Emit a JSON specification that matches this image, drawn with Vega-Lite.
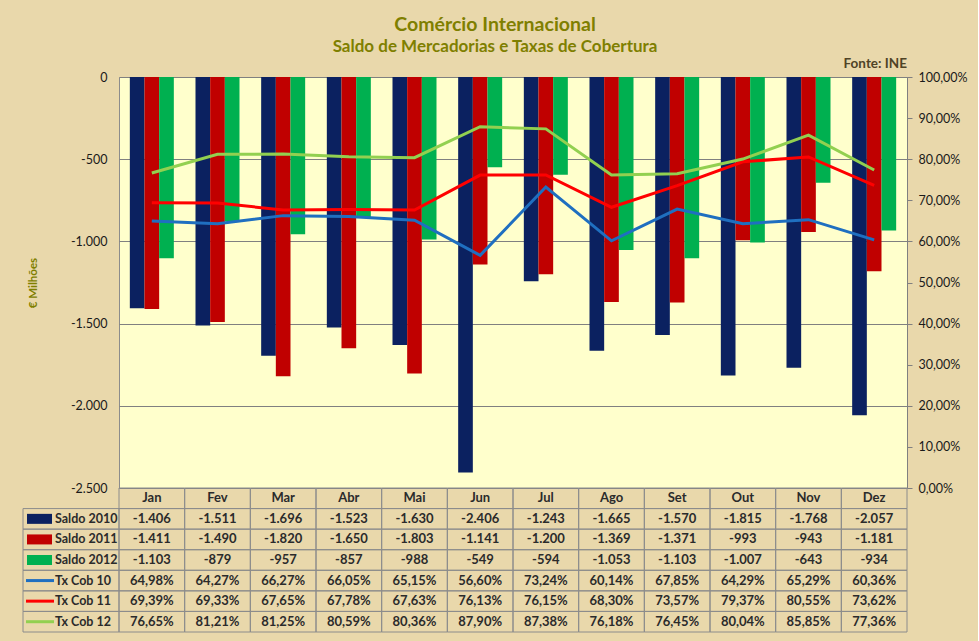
{
  "$schema": "https://vega.github.io/schema/vega-lite/v6.json",
  "description": "Comércio Internacional: saldo de mercadorias e taxas de cobertura, 2010-2012.",
  "background": "#e9d8ab",
  "padding": {"left": 22, "top": 14, "right": 10, "bottom": 8},
  "title": {
    "text": "Comércio Internacional",
    "subtitle": "Saldo de Mercadorias e Taxas de Cobertura",
    "font": "Lato",
    "fontSize": 19.5,
    "fontWeight": "bold",
    "color": "#7f7f00",
    "subtitleFont": "Lato",
    "subtitleFontSize": 17,
    "subtitleFontWeight": "bold",
    "subtitleColor": "#7f7f00",
    "subtitlePadding": 4,
    "anchor": "middle",
    "offset": 0
  },
  "datasets": {
    "dados": [
      {"mes": "Jan", "serie": "Saldo 2010", "valor": -1406},
      {"mes": "Fev", "serie": "Saldo 2010", "valor": -1511},
      {"mes": "Mar", "serie": "Saldo 2010", "valor": -1696},
      {"mes": "Abr", "serie": "Saldo 2010", "valor": -1523},
      {"mes": "Mai", "serie": "Saldo 2010", "valor": -1630},
      {"mes": "Jun", "serie": "Saldo 2010", "valor": -2406},
      {"mes": "Jul", "serie": "Saldo 2010", "valor": -1243},
      {"mes": "Ago", "serie": "Saldo 2010", "valor": -1665},
      {"mes": "Set", "serie": "Saldo 2010", "valor": -1570},
      {"mes": "Out", "serie": "Saldo 2010", "valor": -1815},
      {"mes": "Nov", "serie": "Saldo 2010", "valor": -1768},
      {"mes": "Dez", "serie": "Saldo 2010", "valor": -2057},
      {"mes": "Jan", "serie": "Saldo 2011", "valor": -1411},
      {"mes": "Fev", "serie": "Saldo 2011", "valor": -1490},
      {"mes": "Mar", "serie": "Saldo 2011", "valor": -1820},
      {"mes": "Abr", "serie": "Saldo 2011", "valor": -1650},
      {"mes": "Mai", "serie": "Saldo 2011", "valor": -1803},
      {"mes": "Jun", "serie": "Saldo 2011", "valor": -1141},
      {"mes": "Jul", "serie": "Saldo 2011", "valor": -1200},
      {"mes": "Ago", "serie": "Saldo 2011", "valor": -1369},
      {"mes": "Set", "serie": "Saldo 2011", "valor": -1371},
      {"mes": "Out", "serie": "Saldo 2011", "valor": -993},
      {"mes": "Nov", "serie": "Saldo 2011", "valor": -943},
      {"mes": "Dez", "serie": "Saldo 2011", "valor": -1181},
      {"mes": "Jan", "serie": "Saldo 2012", "valor": -1103},
      {"mes": "Fev", "serie": "Saldo 2012", "valor": -879},
      {"mes": "Mar", "serie": "Saldo 2012", "valor": -957},
      {"mes": "Abr", "serie": "Saldo 2012", "valor": -857},
      {"mes": "Mai", "serie": "Saldo 2012", "valor": -988},
      {"mes": "Jun", "serie": "Saldo 2012", "valor": -549},
      {"mes": "Jul", "serie": "Saldo 2012", "valor": -594},
      {"mes": "Ago", "serie": "Saldo 2012", "valor": -1053},
      {"mes": "Set", "serie": "Saldo 2012", "valor": -1103},
      {"mes": "Out", "serie": "Saldo 2012", "valor": -1007},
      {"mes": "Nov", "serie": "Saldo 2012", "valor": -643},
      {"mes": "Dez", "serie": "Saldo 2012", "valor": -934},
      {"mes": "Jan", "serie": "Tx Cob 10", "valor": 0.6498},
      {"mes": "Fev", "serie": "Tx Cob 10", "valor": 0.6427},
      {"mes": "Mar", "serie": "Tx Cob 10", "valor": 0.6627},
      {"mes": "Abr", "serie": "Tx Cob 10", "valor": 0.6605},
      {"mes": "Mai", "serie": "Tx Cob 10", "valor": 0.6515},
      {"mes": "Jun", "serie": "Tx Cob 10", "valor": 0.5660},
      {"mes": "Jul", "serie": "Tx Cob 10", "valor": 0.7324},
      {"mes": "Ago", "serie": "Tx Cob 10", "valor": 0.6014},
      {"mes": "Set", "serie": "Tx Cob 10", "valor": 0.6785},
      {"mes": "Out", "serie": "Tx Cob 10", "valor": 0.6429},
      {"mes": "Nov", "serie": "Tx Cob 10", "valor": 0.6529},
      {"mes": "Dez", "serie": "Tx Cob 10", "valor": 0.6036},
      {"mes": "Jan", "serie": "Tx Cob 11", "valor": 0.6939},
      {"mes": "Fev", "serie": "Tx Cob 11", "valor": 0.6933},
      {"mes": "Mar", "serie": "Tx Cob 11", "valor": 0.6765},
      {"mes": "Abr", "serie": "Tx Cob 11", "valor": 0.6778},
      {"mes": "Mai", "serie": "Tx Cob 11", "valor": 0.6763},
      {"mes": "Jun", "serie": "Tx Cob 11", "valor": 0.7613},
      {"mes": "Jul", "serie": "Tx Cob 11", "valor": 0.7615},
      {"mes": "Ago", "serie": "Tx Cob 11", "valor": 0.6830},
      {"mes": "Set", "serie": "Tx Cob 11", "valor": 0.7357},
      {"mes": "Out", "serie": "Tx Cob 11", "valor": 0.7937},
      {"mes": "Nov", "serie": "Tx Cob 11", "valor": 0.8055},
      {"mes": "Dez", "serie": "Tx Cob 11", "valor": 0.7362},
      {"mes": "Jan", "serie": "Tx Cob 12", "valor": 0.7665},
      {"mes": "Fev", "serie": "Tx Cob 12", "valor": 0.8121},
      {"mes": "Mar", "serie": "Tx Cob 12", "valor": 0.8125},
      {"mes": "Abr", "serie": "Tx Cob 12", "valor": 0.8059},
      {"mes": "Mai", "serie": "Tx Cob 12", "valor": 0.8036},
      {"mes": "Jun", "serie": "Tx Cob 12", "valor": 0.8790},
      {"mes": "Jul", "serie": "Tx Cob 12", "valor": 0.8738},
      {"mes": "Ago", "serie": "Tx Cob 12", "valor": 0.7618},
      {"mes": "Set", "serie": "Tx Cob 12", "valor": 0.7645},
      {"mes": "Out", "serie": "Tx Cob 12", "valor": 0.8004},
      {"mes": "Nov", "serie": "Tx Cob 12", "valor": 0.8585},
      {"mes": "Dez", "serie": "Tx Cob 12", "valor": 0.7736}
    ]
  },
  "data": {"name": "dados"},
  "columns": 2,
  "spacing": 0,
  "bounds": "flush",
  "resolve": {"scale": {"x": "independent", "y": "independent", "color": "independent"}},
  "concat": [
    {
      "width": 96,
      "height": 411,
      "mark": {"type": "text", "text": ""}
    },
    {
      "width": 788,
      "height": 411,
      "view": {"fill": "#ffffcc", "stroke": "#8c8c8c"},
      "title": {
        "text": "Fonte: INE",
        "anchor": "end",
        "frame": "group",
        "font": "Lato",
        "fontSize": 13.5,
        "fontWeight": "bold",
        "color": "#4f4326",
        "offset": 1
      },
      "encoding": {
        "x": {
          "field": "mes",
          "type": "nominal",
          "sort": ["Jan", "Fev", "Mar", "Abr", "Mai", "Jun", "Jul", "Ago", "Set", "Out", "Nov", "Dez"],
          "scale": {"paddingInner": 0.33, "paddingOuter": 0.165},
          "axis": null
        },
        "color": {
          "field": "serie",
          "type": "nominal",
          "scale": {
            "domain": ["Saldo 2010", "Saldo 2011", "Saldo 2012", "Tx Cob 10", "Tx Cob 11", "Tx Cob 12"],
            "range": ["#0b2160", "#c00000", "#00b050", "#1f6fc0", "#ff0000", "#92d050"]
          },
          "legend": null
        }
      },
      "layer": [
        {
          "transform": [{"filter": "indexof(datum.serie, 'Saldo') == 0"}],
          "mark": {"type": "bar"},
          "encoding": {
            "xOffset": {"field": "serie", "type": "nominal", "sort": ["Saldo 2010", "Saldo 2011", "Saldo 2012"]},
            "y": {
              "field": "valor",
              "type": "quantitative",
              "scale": {"domain": [-2500, 0], "nice": false},
              "axis": {
                "orient": "left",
                "values": [-2500, -2000, -1500, -1000, -500, 0],
                "format": ",.0f",
                "title": "€ Milhões",
                "titleFont": "Lato",
                "titleFontSize": 11.5,
                "titleFontWeight": "bold",
                "titleColor": "#7f7f00",
                "titlePadding": 32,
                "labelFont": "Lato",
                "labelFontSize": 12.5,
                "labelColor": "#1a1a1a",
                "labelPadding": 12,
                "ticks": false,
                "domain": false,
                "grid": true,
                "gridColor": "#808080",
                "gridWidth": 1
              }
            }
          }
        },
        {
          "transform": [{"filter": "indexof(datum.serie, 'Tx') == 0"}],
          "mark": {"type": "line", "strokeWidth": 3},
          "encoding": {
            "y": {
              "field": "valor",
              "type": "quantitative",
              "scale": {"domain": [0, 1], "nice": false},
              "axis": {
                "orient": "right",
                "values": [0, 0.1, 0.2, 0.3, 0.4, 0.5, 0.6, 0.7, 0.8, 0.9, 1],
                "format": ".2%",
                "title": null,
                "labelFont": "Lato",
                "labelFontSize": 12.5,
                "labelColor": "#1a1a1a",
                "labelPadding": 6,
                "tickColor": "#808080",
                "tickSize": 5,
                "domainColor": "#808080",
                "grid": false
              }
            }
          }
        }
      ],
      "resolve": {"scale": {"y": "independent"}}
    },
    {
      "width": 96,
      "height": 144,
      "transform": [{"filter": "datum.mes == 'Jan'"}],
      "encoding": {
        "y": {
          "field": "serie",
          "type": "nominal",
          "scale": {
            "domain": ["Mês", "Saldo 2010", "Saldo 2011", "Saldo 2012", "Tx Cob 10", "Tx Cob 11", "Tx Cob 12"],
            "paddingInner": 0,
            "paddingOuter": 0
          },
          "axis": null
        },
        "color": {
          "field": "serie",
          "type": "nominal",
          "scale": {
            "domain": ["Saldo 2010", "Saldo 2011", "Saldo 2012", "Tx Cob 10", "Tx Cob 11", "Tx Cob 12"],
            "range": ["#0b2160", "#c00000", "#00b050", "#1f6fc0", "#ff0000", "#92d050"]
          },
          "legend": null
        }
      },
      "layer": [
        {
          "mark": {"type": "rect", "fill": "transparent", "stroke": "#8c8c8c", "strokeWidth": 1},
          "encoding": {"x": {"value": 0}, "x2": {"value": "width"}, "color": {"value": "transparent"}}
        },
        {
          "transform": [{"filter": "indexof(datum.serie, 'Saldo') == 0"}],
          "mark": {"type": "tick", "orient": "horizontal", "size": 25, "thickness": 10, "opacity": 1},
          "encoding": {"x": {"value": 16.5}}
        },
        {
          "transform": [{"filter": "indexof(datum.serie, 'Tx') == 0"}],
          "mark": {"type": "tick", "orient": "horizontal", "size": 28, "thickness": 3, "opacity": 1},
          "encoding": {"x": {"value": 17}}
        },
        {
          "mark": {"type": "text", "align": "left", "font": "Lato", "fontSize": 12.5, "fontWeight": "bold", "color": "#2b2b2b"},
          "encoding": {"x": {"value": 32}, "text": {"field": "serie"}, "color": {"value": "#2b2b2b"}}
        }
      ]
    },
    {
      "width": 788,
      "height": 144,
      "encoding": {
        "x": {
          "field": "mes",
          "type": "nominal",
          "sort": ["Jan", "Fev", "Mar", "Abr", "Mai", "Jun", "Jul", "Ago", "Set", "Out", "Nov", "Dez"],
          "scale": {"paddingInner": 0, "paddingOuter": 0},
          "axis": null
        },
        "y": {
          "field": "serie",
          "type": "nominal",
          "scale": {
            "domain": ["Mês", "Saldo 2010", "Saldo 2011", "Saldo 2012", "Tx Cob 10", "Tx Cob 11", "Tx Cob 12"],
            "paddingInner": 0,
            "paddingOuter": 0
          },
          "axis": null
        }
      },
      "layer": [
        {
          "mark": {"type": "rect", "fill": "transparent", "stroke": "#8c8c8c", "strokeWidth": 1}
        },
        {
          "transform": [{"filter": "datum.serie == 'Saldo 2010'"}],
          "mark": {"type": "rect", "fill": "transparent", "stroke": "#8c8c8c", "strokeWidth": 1},
          "encoding": {"y": {"datum": "Mês", "type": "nominal"}}
        },
        {
          "transform": [{"filter": "datum.serie == 'Saldo 2010'"}],
          "mark": {"type": "text", "font": "Lato", "fontSize": 13, "fontWeight": "bold", "color": "#2b2b2b"},
          "encoding": {"y": {"datum": "Mês", "type": "nominal"}, "text": {"field": "mes"}}
        },
        {
          "transform": [{"filter": "indexof(datum.serie, 'Saldo') == 0"}],
          "mark": {"type": "text", "font": "Lato", "fontSize": 13, "fontWeight": "bold", "color": "#2b2b2b"},
          "encoding": {"text": {"field": "valor", "type": "quantitative", "format": ","}}
        },
        {
          "transform": [{"filter": "indexof(datum.serie, 'Tx') == 0"}],
          "mark": {"type": "text", "font": "Lato", "fontSize": 13, "fontWeight": "bold", "color": "#2b2b2b"},
          "encoding": {"text": {"field": "valor", "type": "quantitative", "format": ".2%"}}
        }
      ]
    }
  ],
  "config": {
    "font": "Lato",
    "locale": {
      "number": {
        "decimal": ",",
        "thousands": ".",
        "grouping": [3],
        "currency": ["", " €"],
        "minus": "-"
      }
    },
    "view": {"stroke": null}
  }
}
